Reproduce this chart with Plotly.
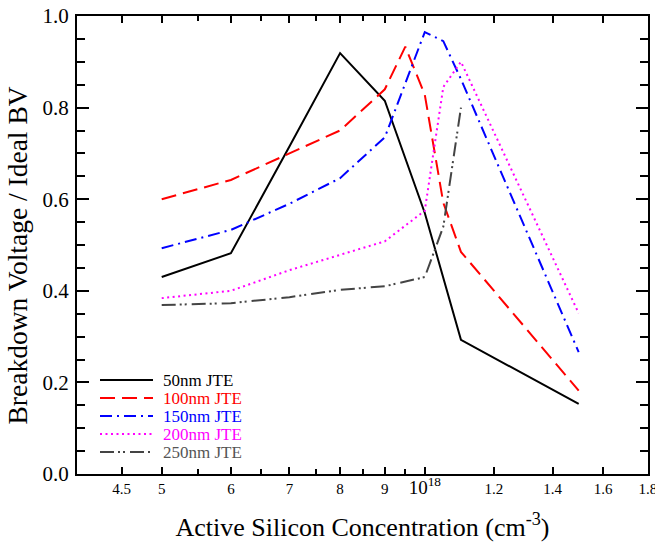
import plotly.graph_objects as go

# Active silicon concentration (cm^-3) and normalised breakdown voltage per JTE thickness
conc_50 = [5e17, 6e17, 7e17, 8e17, 9e17, 1.0e18, 1.1e18, 1.5e18]
bv_50 = [0.430, 0.482, 0.715, 0.919, 0.815, 0.570, 0.293, 0.153]

conc_100 = [5e17, 6e17, 7e17, 8e17, 9e17, 9.5e17, 1.0e18, 1.05e18, 1.1e18, 1.5e18]
bv_100 = [0.600, 0.642, 0.700, 0.750, 0.840, 0.933, 0.828, 0.592, 0.485, 0.182]

conc_150 = [5e17, 6e17, 7e17, 8e17, 9e17, 1.0e18, 1.05e18, 1.1e18, 1.5e18]
bv_150 = [0.493, 0.533, 0.590, 0.646, 0.735, 0.965, 0.945, 0.862, 0.266]

conc_200 = [5e17, 6e17, 7e17, 8e17, 9e17, 1.0e18, 1.05e18, 1.1e18, 1.5e18]
bv_200 = [0.384, 0.400, 0.445, 0.478, 0.508, 0.575, 0.845, 0.900, 0.351]

conc_250 = [5e17, 6e17, 7e17, 8e17, 9e17, 1.0e18, 1.05e18, 1.1e18]
bv_250 = [0.369, 0.373, 0.386, 0.402, 0.410, 0.430, 0.540, 0.800]

series_names = ["50nm JTE", "100nm JTE", "150nm JTE", "200nm JTE", "250nm JTE"]

x_tickvals = [4.5e17, 5e17, 6e17, 7e17, 8e17, 9e17, 1e18, 1.2e18, 1.4e18, 1.6e18, 1.8e18]
x_ticktext = ["4.5", "5", "6", "7", "8", "9",
              "<span style='font-size:19px'>10<sup>18</sup></span>",
              "1.2", "1.4", "1.6", "1.8"]
x_minorvals = [5.5e17, 6.5e17, 7.5e17, 8.5e17, 9.5e17]
y_tickvals = [0.0, 0.2, 0.4, 0.6, 0.8, 1.0]

FONT = "Times New Roman"

line_colors = ["black", "#ff0000", "#0000ff", "#ff00ff", "#444444"]
line_dashes = ["solid", "15px,7px", "12px,5px,2px,5px", "2px,3.5px",
               "14px,4px,2px,3px,2px,5px"]
label_colors = ["black", "#ff0000", "#0000ff", "#ff00ff", "#555555"]

all_x = [conc_50, conc_100, conc_150, conc_200, conc_250]
all_y = [bv_50, bv_100, bv_150, bv_200, bv_250]

fig = go.Figure()
for xs, ys, name, col, dash in zip(all_x, all_y, series_names, line_colors, line_dashes):
    fig.add_trace(go.Scatter(
        x=xs, y=ys, mode="lines", name=name,
        line=dict(color=col, dash=dash, width=2),
        showlegend=False,
    ))

# Key in the lower-left corner: line sample plus coloured label per series
plot_w = 655 - 77 - 7
plot_h = 543 - 16 - 69
key_top_px = 94          # first row, measured up from the x axis
key_step_px = 18
sample_x0 = 23 / plot_w
sample_x1 = 76 / plot_w
label_x = 85 / plot_w
for i, (name, col, dash, lcol) in enumerate(zip(series_names, line_colors,
                                                 line_dashes, label_colors)):
    yk = (key_top_px - i * key_step_px) / plot_h
    fig.add_shape(type="line", xref="paper", yref="paper",
                  x0=sample_x0, x1=sample_x1, y0=yk, y1=yk,
                  line=dict(color=col, dash=dash, width=2))
    fig.add_annotation(xref="paper", yref="paper", x=label_x, y=yk,
                       xanchor="left", yanchor="middle", showarrow=False,
                       text=name, font=dict(family=FONT, size=17, color=lcol),
                       borderpad=0)

# Vertical axis title, set slightly below the axis midpoint
fig.add_annotation(xref="paper", yref="paper", x=-60.5 / plot_w, y=218 / plot_h,
                   xanchor="center", yanchor="middle", showarrow=False,
                   textangle=-90, text="Breakdown Voltage / Ideal BV",
                   font=dict(family=FONT, size=27.5, color="black"))

fig.update_layout(
    width=655, height=543,
    margin=dict(l=77, r=7, t=16, b=69, autoexpand=False),
    paper_bgcolor="white", plot_bgcolor="white",
    font=dict(family=FONT, color="black"),
    showlegend=False,
)

fig.update_xaxes(
    type="log",
    range=[17.60206, 18.2554],
    automargin=False,
    tickmode="array", tickvals=x_tickvals, ticktext=x_ticktext,
    ticklabeloverflow="allow",
    ticks="inside", ticklen=7, tickwidth=1.5, tickcolor="black",
    minor=dict(tickmode="array", tickvals=x_minorvals, ticks="inside",
               ticklen=5, tickwidth=1.5, tickcolor="black", showgrid=False),
    showline=True, linewidth=2, linecolor="black", mirror="ticks",
    showgrid=False, zeroline=False,
    tickfont=dict(family=FONT, size=15),
    title=dict(text="Active Silicon Concentration (cm<sup>-3</sup>)",
               font=dict(family=FONT, size=26), standoff=21),
)
fig.update_yaxes(
    range=[0, 1.0],
    automargin=False,
    tickmode="array", tickvals=y_tickvals, tickformat=".1f",
    ticks="inside", ticklen=12, tickwidth=1.5, tickcolor="black",
    minor=dict(dtick=0.05, ticks="inside", ticklen=8, tickwidth=1.5,
               tickcolor="black", showgrid=False),
    showline=True, linewidth=2, linecolor="black", mirror="ticks",
    showgrid=False, zeroline=False,
    tickfont=dict(family=FONT, size=21),
    ticklabelstandoff=2,
)

fig.write_html("out.html")
